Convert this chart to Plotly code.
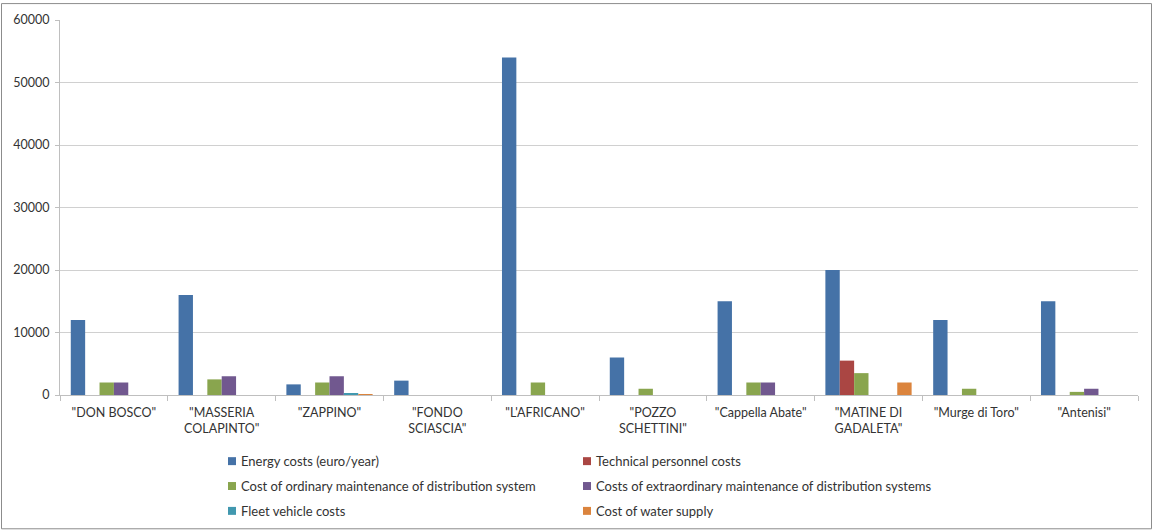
import plotly.graph_objects as go

# Pumping stations (category axis)
stations = [
    '"DON BOSCO"', '"MASSERIA<br>COLAPINTO"', '"ZAPPINO"', '"FONDO<br>SCIASCIA"',
    '"L\'AFRICANO"', '"POZZO<br>SCHETTINI"', '"Cappella Abate"', '"MATINE DI<br>GADALETA"',
    '"Murge di Toro"', '"Antenisi"',
]

# Cost components per station (euro/year)
energy_costs = [12000, 16000, 1700, 2300, 54000, 6000, 15000, 20000, 12000, 15000]
technical_personnel = [0, 0, 0, 0, 0, 0, 0, 5500, 0, 0]
ordinary_maintenance = [2000, 2500, 2000, 0, 2000, 1000, 2000, 3500, 1000, 500]
extraordinary_maintenance = [2000, 3000, 3000, 0, 0, 0, 2000, 0, 0, 1000]
fleet_vehicle = [0, 0, 250, 0, 0, 0, 0, 0, 0, 0]
water_supply = [0, 0, 120, 0, 0, 0, 0, 2000, 0, 0]

series_names = [
    "Energy costs (euro/year)",
    "Technical personnel costs",
    "Cost of ordinary maintenance of distribution system",
    "Costs of extraordinary maintenance of distribution systems",
    "Fleet vehicle costs",
    "Cost of water supply",
]
series_values = [energy_costs, technical_personnel, ordinary_maintenance,
                 extraordinary_maintenance, fleet_vehicle, water_supply]
series_colors = ["#4572A7", "#AA4643", "#89A54E", "#71588F", "#4198AF", "#DB843D"]

W, H = 1153, 531
ML, MR, MT, MB = 60, 15, 18, 136
FONT = "Lato, 'Open Sans', sans-serif"
TEXT_COLOR = "#333333"

fig = go.Figure()
for name, vals, col in zip(series_names, series_values, series_colors):
    fig.add_trace(go.Bar(
        x=stations, y=vals, name=name, showlegend=False,
        marker=dict(color=col, line=dict(width=0)),
    ))

pw = W - ML - MR
ph = H - MT - MB

def px_x(px):
    return (px - ML) / pw

def px_y(py):
    return (H - MB - py) / ph

# Two-column key below the plot: square swatch + label, filled row by row
shapes = []
annotations = []
col_x = [228, 583]
row_y = [461.5, 486.5, 511.5]
for i, (name, col) in enumerate(zip(series_names, series_colors)):
    x0 = col_x[i % 2]
    yc = row_y[i // 2]
    shapes.append(dict(
        type="rect", xref="paper", yref="paper",
        x0=px_x(x0), x1=px_x(x0 + 8), y0=px_y(yc + 4), y1=px_y(yc - 4),
        line=dict(width=0), fillcolor=col,
    ))
    annotations.append(dict(
        xref="paper", yref="paper", x=px_x(x0 + 11), y=px_y(yc),
        xanchor="left", yanchor="middle", showarrow=False,
        text=name, font=dict(family=FONT, size=13, color=TEXT_COLOR),
    ))

# Outer chart border
shapes.append(dict(
    type="rect", xref="paper", yref="paper",
    x0=px_x(1.5), x1=px_x(1151.5), y0=px_y(529.5), y1=px_y(1.5),
    line=dict(color="#8c8c8c", width=1), fillcolor="rgba(0,0,0,0)", layer="below",
))

fig.update_layout(
    width=W, height=H,
    margin=dict(l=ML, r=MR, t=MT, b=MB),
    paper_bgcolor="white", plot_bgcolor="white",
    barmode="group", bargap=0.2, bargroupgap=0,
    font=dict(family=FONT, size=12, color=TEXT_COLOR),
    showlegend=False,
    xaxis=dict(
        type="category", showgrid=False,
        showline=True, linecolor="#bfbfbf", linewidth=1,
        ticks="outside", tickson="boundaries", ticklen=5, tickcolor="#bfbfbf",
        ticklabelstandoff=6,
        tickfont=dict(family=FONT, size=12.5, color=TEXT_COLOR),
    ),
    yaxis=dict(
        range=[0, 60000], dtick=10000, tickformat="d",
        showgrid=True, gridcolor="#d0d0d0", gridwidth=1,
        showline=True, linecolor="#bfbfbf", linewidth=1,
        ticks="outside", ticklen=4, tickcolor="#bfbfbf",
        ticklabelstandoff=3,
        zeroline=False,
        tickfont=dict(family=FONT, size=12.5, color=TEXT_COLOR),
    ),
    shapes=shapes,
    annotations=annotations,
)

fig.write_html("out.html")
